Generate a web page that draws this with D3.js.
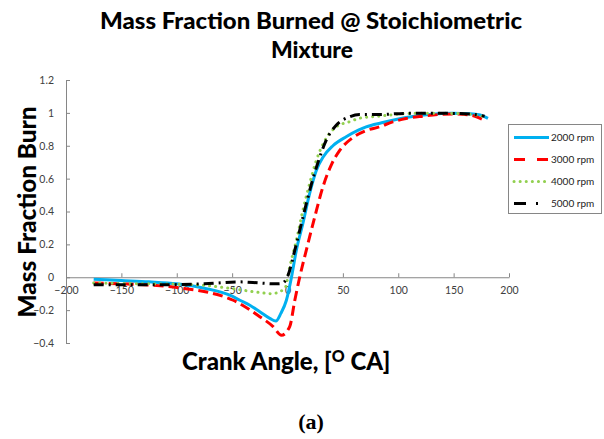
<!DOCTYPE html>
<html>
<head>
<meta charset="utf-8">
<script src="https://cdn.jsdelivr.net/npm/d3@7"></script>
<style>
  html, body { margin: 0; padding: 0; background: #fff; }
  svg { display: block; }
</style>
</head>
<body>
<svg id="chart" width="604" height="439"></svg>
<script>
// Crank angle (deg) and mass fraction burned for each engine speed
const angle2000 = [-175, -150, -125, -100, -75, -50, -43, -34, -25, -16, -10.5, -6, -1, 3.6, 8, 14, 20, 26, 32, 41, 53, 64, 71, 85, 98, 113, 128, 149, 165, 174, 181];
const mfb2000   = [-0.012, -0.02, -0.028, -0.04, -0.067, -0.115, -0.14, -0.17, -0.21, -0.25, -0.266, -0.22, -0.14, 0.0, 0.165, 0.33, 0.51, 0.65, 0.73, 0.80, 0.855, 0.895, 0.915, 0.94, 0.96, 0.978, 0.99, 0.997, 0.995, 0.987, 0.967];

const angle3000 = [-175, -150, -125, -97, -73, -49, -25, -13, -5.4, 2, 6.6, 11, 17, 24.6, 32, 40, 47, 59, 70, 83, 95, 107, 122, 137, 150, 164.5, 176];
const mfb3000   = [-0.035, -0.04, -0.047, -0.065, -0.09, -0.14, -0.24, -0.30, -0.353, -0.30, -0.14, 0.0, 0.165, 0.367, 0.55, 0.69, 0.77, 0.85, 0.89, 0.915, 0.945, 0.966, 0.98, 0.99, 0.993, 0.987, 0.96];

const angle4000 = [-175, -150, -125, -100, -76, -49, -25, -14.5, -2.4, 2, 8, 14, 20, 26, 33.6, 44, 56, 65, 83, 113, 143.5, 167, 178];
const mfb4000   = [-0.035, -0.038, -0.04, -0.042, -0.049, -0.07, -0.093, -0.1, -0.069, 0.063, 0.225, 0.41, 0.57, 0.71, 0.83, 0.915, 0.946, 0.967, 0.98, 0.997, 0.997, 0.99, 0.976];

const angle5000 = [-175, -150, -125, -103, -75, -43, -25, -11.5, -5.4, 0.5, 6.6, 14, 21.7, 27.6, 35, 44, 56, 65, 83, 107, 143, 164.5, 178];
const mfb5000   = [-0.045, -0.046, -0.046, -0.045, -0.04, -0.028, -0.035, -0.04, -0.038, 0.012, 0.165, 0.367, 0.57, 0.70, 0.834, 0.925, 0.976, 0.99, 0.99, 0.997, 0.997, 0.993, 0.98];

const seriesNames = ["2000 rpm", "3000 rpm", "4000 rpm", "5000 rpm"];
const xTicks = [-200, -150, -100, -50, 0, 50, 100, 150, 200];
const yTicks = [-0.4, -0.2, 0, 0.2, 0.4, 0.6, 0.8, 1, 1.2];

const series = [
  { name: seriesNames[0], xs: angle2000, ys: mfb2000, color: "#00B0F0", dash: null,       legendDash: null,          cap: "butt"  },
  { name: seriesNames[1], xs: angle3000, ys: mfb3000, color: "#FF0000", dash: "10,5",     legendDash: "11,12",       cap: "butt"  },
  { name: seriesNames[2], xs: angle4000, ys: mfb4000, color: "#92D050", dash: "0.1,6",    legendDash: "0.1,6",       cap: "round" },
  { name: seriesNames[3], xs: angle5000, ys: mfb5000, color: "#000000", dash: "10,5,2,5", legendDash: "12,10,2,12",  cap: "butt"  }
];

const svg = d3.select("#chart");
const plot = { left: 66, right: 509, top: 80, bottom: 343 };

const x = d3.scaleLinear().domain([-200, 200]).range([plot.left, plot.right]);
const y = d3.scaleLinear().domain([-0.4, 1.2]).range([plot.bottom, plot.top]);

const axisColor = "#868686";
const tickFont = "Lato, 'Open Sans', sans-serif";

// Horizontal axis crossing at zero
const xAxis = svg.append("g")
  .attr("transform", `translate(0,${y(0)})`)
  .call(d3.axisBottom(x).tickValues(xTicks).tickSizeInner(-4).tickSizeOuter(0).tickPadding(9).tickFormat(d3.format("d")));
xAxis.select(".domain").attr("stroke", axisColor);
xAxis.selectAll(".tick line").attr("stroke", axisColor);
xAxis.selectAll(".tick text").attr("fill", "#404040").style("font-family", tickFont).style("font-size", "10.5px");

// Vertical axis at the left edge
const yAxis = svg.append("g")
  .attr("transform", `translate(${plot.left},0)`)
  .call(d3.axisLeft(y).tickValues(yTicks).tickSizeInner(-4).tickSizeOuter(0).tickPadding(12).tickFormat(d => d3.format("")(+d.toFixed(1))));
yAxis.select(".domain").attr("stroke", axisColor);
yAxis.selectAll(".tick line").attr("stroke", axisColor);
yAxis.selectAll(".tick text").attr("fill", "#404040").style("font-family", tickFont).style("font-size", "10.5px");

// Curves
const line = d3.line().x(d => x(d[0])).y(d => y(d[1])).curve(d3.curveMonotoneX);
series.forEach(s => {
  const pts = s.xs.map((v, i) => [v, s.ys[i]]);
  svg.append("path")
    .datum(pts)
    .attr("d", line)
    .attr("fill", "none")
    .attr("stroke", s.color)
    .attr("stroke-width", 3)
    .attr("stroke-linecap", s.cap)
    .attr("stroke-dasharray", s.dash);
});

// Legend
const legend = svg.append("g");
legend.append("rect")
  .attr("x", 508.5).attr("y", 124.5).attr("width", 93).attr("height", 89)
  .attr("fill", "#fff").attr("stroke", axisColor).attr("stroke-width", 1);
series.forEach((s, i) => {
  const ly = 137.5 + i * 22;
  legend.append("line")
    .attr("x1", 514).attr("x2", 549).attr("y1", ly).attr("y2", ly)
    .attr("stroke", s.color).attr("stroke-width", 3)
    .attr("stroke-linecap", s.cap)
    .attr("stroke-dasharray", s.legendDash);
  legend.append("text")
    .attr("x", 551).attr("y", ly + 3.5)
    .style("font-family", tickFont).style("font-size", "10px").attr("fill", "#222")
    .text(s.name);
});

// Titles
const boldFont = "Lato, 'Open Sans', sans-serif";
svg.append("text").attr("x", 311).attr("y", 29).attr("text-anchor", "middle")
  .style("font-family", boldFont).style("font-weight", "900").style("font-size", "23px")
  .attr("textLength", 422).attr("lengthAdjust", "spacingAndGlyphs")
  .text("Mass Fraction Burned @ Stoichiometric");
svg.append("text").attr("x", 312).attr("y", 58).attr("text-anchor", "middle")
  .style("font-family", boldFont).style("font-weight", "900").style("font-size", "23px")
  .attr("textLength", 82).attr("lengthAdjust", "spacingAndGlyphs")
  .text("Mixture");

svg.append("text")
  .attr("transform", `translate(36,212) rotate(-90)`)
  .attr("text-anchor", "middle")
  .style("font-family", boldFont).style("font-weight", "900").style("font-size", "25px")
  .attr("textLength", 211).attr("lengthAdjust", "spacingAndGlyphs")
  .text("Mass Fraction Burn");

const xt = svg.append("text").attr("x", 182).attr("y", 370)
  .style("font-family", boldFont).style("font-weight", "900").style("font-size", "24px");
xt.append("tspan").text("Crank Angle, [");
xt.append("tspan").attr("dy", -8).style("font-size", "16px").text("O");
xt.append("tspan").attr("dy", 8).text(" CA]");

svg.append("text").attr("x", 311).attr("y", 429).attr("text-anchor", "middle")
  .style("font-family", "'Liberation Serif', 'Times New Roman', serif").style("font-weight", "bold").style("font-size", "22px")
  .text("(a)");
</script>
</body>
</html>
